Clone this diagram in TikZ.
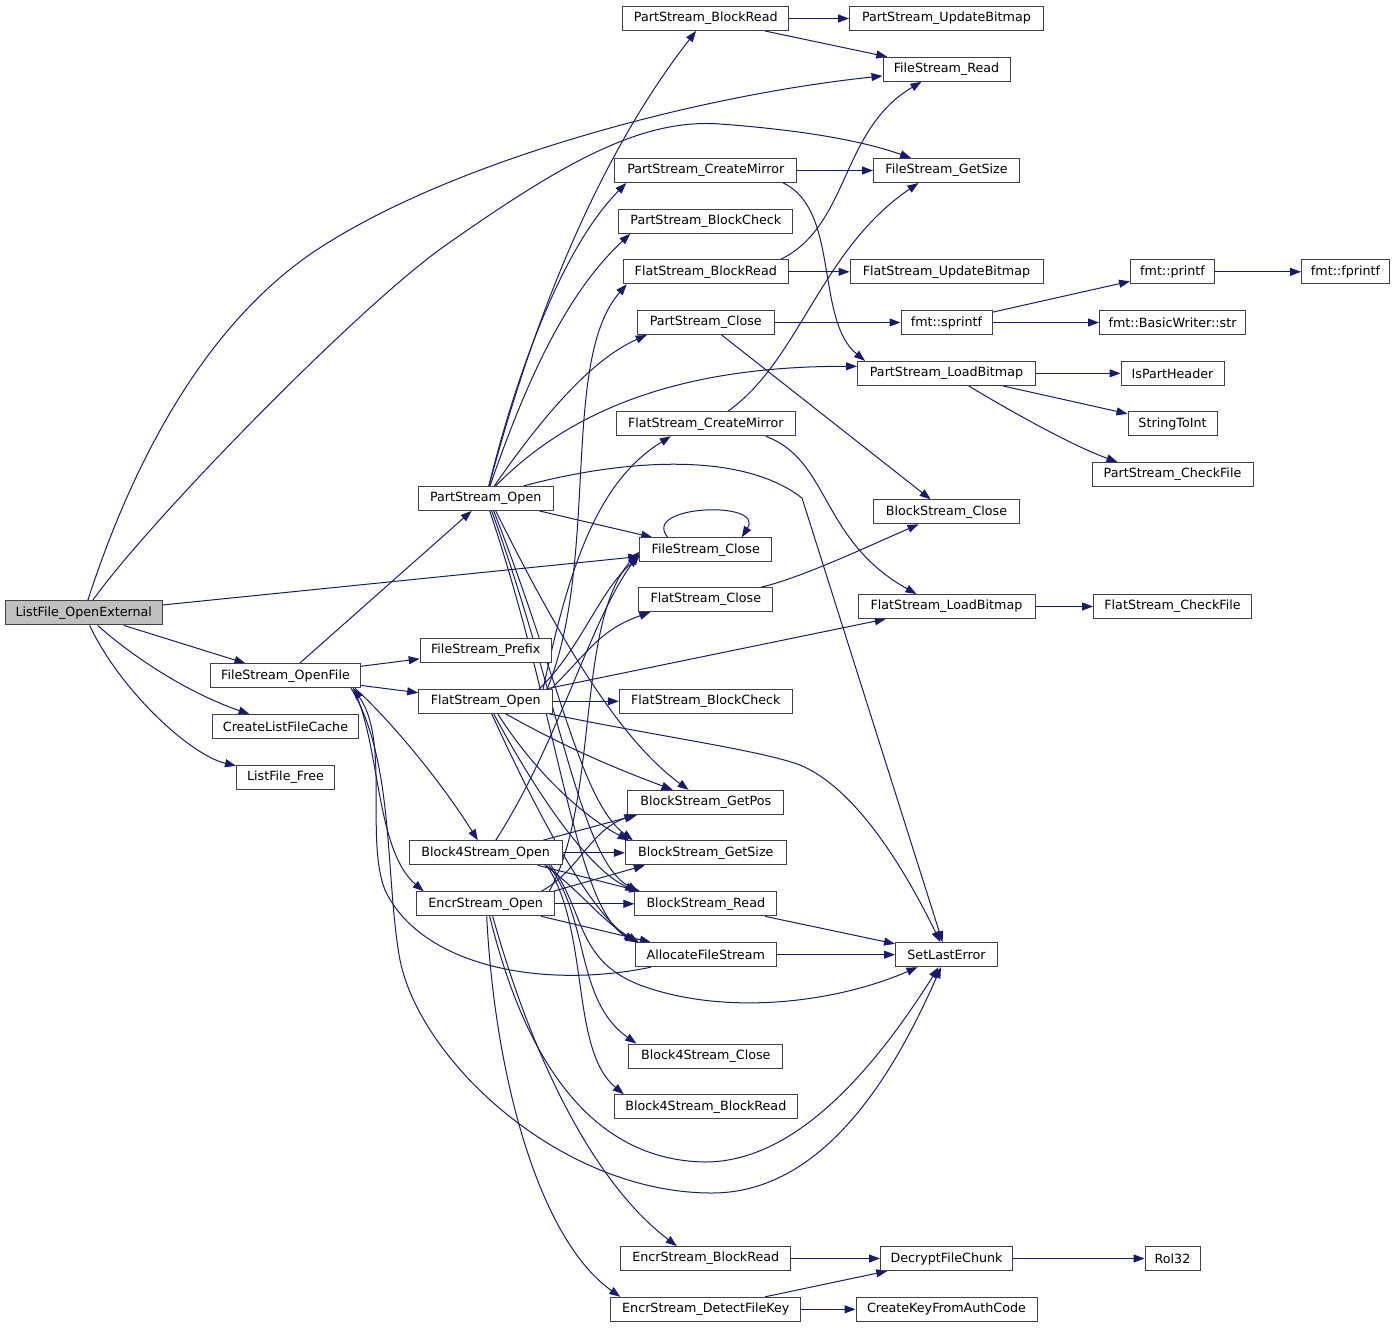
\documentclass[tikz,border=0pt]{standalone}
\usepackage{fontspec}
\setmainfont{DejaVu Sans}
\usetikzlibrary{arrows.meta,backgrounds}
\definecolor{edgeblue}{HTML}{191970}
\definecolor{boxline}{HTML}{404040}
\newcommand\mkbox[4]{\node[box,minimum width=#3pt] (#1) at (#2) {#4};}
\begin{document}
\begin{tikzpicture}[x=1pt,y=-1pt,
  box/.style={draw=boxline, line width=1pt, fill=white, minimum height=24pt, inner sep=0pt, font=\fontsize{12.7}{14}\selectfont},
  e/.style={draw=edgeblue, line width=1pt, -{Triangle[length=11pt,width=8pt]}}]
\begin{pgfonlayer}{background}
\fill[white] (0,0) rectangle (1396,1328);
\end{pgfonlayer}
\useasboundingbox (0,0) rectangle (1396,1328);
% column 0/1
\node[box,minimum width=157pt,fill=black!25] (lfoe) at (83.75,612.9) {ListFile\_OpenExternal};
\mkbox{fsopen}{285.5,675.8}{150}{FileStream\_OpenFile}
\mkbox{clfc}{285.5,726.7}{146}{CreateListFileCache}
\mkbox{lff}{285.5,777.3}{98}{ListFile\_Free}
% column 2
\mkbox{pso}{485.7,498.4}{135}{PartStream\_Open}
\mkbox{fsp}{485.7,650.5}{131}{FileStream\_Prefix}
\mkbox{flo}{485.7,701.3}{134}{FlatStream\_Open}
\mkbox{b4o}{485.7,852.8}{153}{Block4Stream\_Open}
\mkbox{eso}{485.7,903.8}{138}{EncrStream\_Open}
% column 3
\mkbox{psbr}{705.8,18.5}{166}{PartStream\_BlockRead}
\mkbox{pscm}{705.8,170.5}{182}{PartStream\_CreateMirror}
\mkbox{psbc}{705.8,221.3}{174}{PartStream\_BlockCheck}
\mkbox{flbr}{705.8,271.8}{165}{FlatStream\_BlockRead}
\mkbox{psc}{705.8,322.5}{137}{PartStream\_Close}
\mkbox{flcm}{705.8,423.8}{179}{FlatStream\_CreateMirror}
\mkbox{fsc}{705.8,549.8}{132}{FileStream\_Close}
\mkbox{flc}{705.8,599.6}{134}{FlatStream\_Close}
\mkbox{flbc}{705.8,701.3}{173}{FlatStream\_BlockCheck}
\mkbox{bsgp}{705.8,802.3}{156}{BlockStream\_GetPos}
\mkbox{bsgs}{705.8,852.8}{161}{BlockStream\_GetSize}
\mkbox{bsr}{705.8,903.8}{142}{BlockStream\_Read}
\mkbox{afs}{705.8,954.7}{141}{AllocateFileStream}
\mkbox{b4c}{705.8,1056}{154}{Block4Stream\_Close}
\mkbox{b4br}{705.8,1106.7}{183}{Block4Stream\_BlockRead}
\mkbox{esbr}{705.8,1258.5}{170}{EncrStream\_BlockRead}
\mkbox{esdk}{705.8,1309.3}{190}{EncrStream\_DetectFileKey}
% column 4
\mkbox{psub}{946.5,18.5}{194}{PartStream\_UpdateBitmap}
\mkbox{fsr}{946.5,69.3}{127}{FileStream\_Read}
\mkbox{fsgs}{946.5,170.5}{146}{FileStream\_GetSize}
\mkbox{flub}{946.5,271.8}{193}{FlatStream\_UpdateBitmap}
\mkbox{sprintf}{946.5,322.5}{91}{fmt::sprintf}
\mkbox{pslb}{946.5,373.3}{178}{PartStream\_LoadBitmap}
\mkbox{bsc}{946.5,511.8}{146}{BlockStream\_Close}
\mkbox{fllb}{946.5,606.5}{177}{FlatStream\_LoadBitmap}
\mkbox{sle}{946.5,954.7}{102}{SetLastError}
\mkbox{dfc}{946.5,1258.5}{132}{DecryptFileChunk}
\mkbox{ckac}{946.5,1309.3}{181}{CreateKeyFromAuthCode}
% column 5
\mkbox{printf}{1172.5,271.8}{84}{fmt::printf}
\mkbox{bws}{1172.5,322.5}{146}{fmt::BasicWriter::str}
\mkbox{isph}{1172.5,373.3}{103}{IsPartHeader}
\mkbox{sti}{1172.5,423.8}{89}{StringToInt}
\mkbox{pscf}{1172.5,474.5}{161}{PartStream\_CheckFile}
\mkbox{flcf}{1172.5,606.5}{158}{FlatStream\_CheckFile}
\mkbox{rol}{1172.5,1258.5}{55}{Rol32}
% column 6
\mkbox{fprintf}{1345.5,271.8}{88}{fmt::fprintf}

\begin{pgfonlayer}{background}
% ListFile_OpenExternal
\draw[e] (lfoe) .. controls (130,470) and (200,330) .. (312,253) .. controls (450,160) and (700,95) .. (fsr);
\draw[e] (lfoe) .. controls (150,520) and (360,305) .. (446,245) .. controls (560,165) and (640,118) .. (720,124) .. controls (800,130) and (860,140) .. (fsgs);
\draw[e] (lfoe) -- (fsc);
\draw[e] (lfoe) -- (fsopen);
\draw[e] (lfoe) .. controls (125,650) and (180,690) .. (clfc);
\draw[e] (lfoe) .. controls (120,690) and (190,755) .. (lff);
% FileStream_OpenFile
\draw[e] (fsopen) -- (pso);
\draw[e] (fsopen) -- (fsp);
\draw[e] (fsopen) -- (flo);
\draw[e] ([xshift=-6pt]fsopen.south east) .. controls (390,720) and (440,780) .. (b4o);
\draw[e] ([xshift=-8pt]fsopen.south east) .. controls (380,740) and (375,850) .. ([xshift=-62pt]eso.north);
\draw[e] ([xshift=-10pt]fsopen.south east) .. controls (395,760) and (385,880) .. (400,960) .. controls (420,1060) and (560,1193) .. (712,1193) .. controls (830,1193) and (900,1060) .. (sle);
\draw[e] ([xshift=16pt]afs.south west) .. controls (540,990) and (420,965) .. (385,890) .. controls (365,840) and (390,740) .. ([xshift=-8pt]fsopen.south east);
% PartStream_Open
\draw[e] (pso) .. controls (520,370) and (580,180) .. (psbr);
\draw[e] (pso) .. controls (515,380) and (560,250) .. ([xshift=12pt]pscm.south west);
\draw[e] (pso) .. controls (530,370) and (570,290) .. ([xshift=12pt]psbc.south west);
\draw[e] (pso) .. controls (540,420) and (590,360) .. ([xshift=10pt]psc.south west);
\draw[e] ([xshift=10pt]pso.north) .. controls (570,410) and (680,366) .. ([yshift=7pt]pslb.west);
\draw[e] (pso) -- (fsc);
\draw[e] ([xshift=38pt]pso.north) .. controls (620,460) and (740,450) .. (802,498) -- (sle);
\draw[e] ([xshift=10pt]pso.south) .. controls (560,640) and (620,740) .. (bsgp);
\draw[e] ([xshift=8pt]pso.south) .. controls (560,680) and (580,800) .. ([xshift=8pt]bsgs.north west);
\draw[e] ([xshift=6pt]pso.south) .. controls (560,700) and (580,860) .. ([xshift=4pt]bsr.north west);
\draw[e] ([xshift=4pt]pso.south) .. controls (560,720) and (575,910) .. ([xshift=2pt]afs.north west);
% FlatStream_Open
\draw[e] ([xshift=-6pt]flo.north east) .. controls (600,560) and (560,360) .. ([xshift=4pt]flbr.south west);
\draw[e] ([xshift=-10pt]flo.north east) .. controls (570,560) and (600,480) .. ([xshift=-35pt]flcm.south);
\draw[e] ([xshift=-14pt]flo.north east) .. controls (580,650) and (600,590) .. ([yshift=-7pt]fsc.west);
\draw[e] ([xshift=-2pt]flo.north east) .. controls (590,650) and (600,630) .. ([xshift=12pt]flc.south west);
\draw[e] (flo) -- (fllb);
\draw[e] (flo) -- (flbc);
\draw[e] ([xshift=20pt]flo.south) .. controls (570,750) and (620,770) .. (bsgp);
\draw[e] ([xshift=12pt]flo.south) .. controls (540,780) and (590,820) .. ([xshift=4pt]bsgs.north west);
\draw[e] ([xshift=8pt]flo.south) .. controls (540,800) and (590,870) .. ([xshift=2pt]bsr.north west);
\draw[e] ([xshift=6pt]flo.south) .. controls (540,820) and (590,910) .. (afs.north west);
\draw[e] ([xshift=-4pt]flo.south east) .. controls (650,735) and (760,750) .. (800,765) .. controls (860,790) and (910,880) .. (sle);
% Block4Stream_Open
\draw[e] ([xshift=10pt]b4o.north) .. controls (560,740) and (590,620) .. ([yshift=-4pt]fsc.west);
\draw[e] ([xshift=-20pt]b4o.north east) -- ([xshift=10pt]bsgp.south west);
\draw[e] (b4o) -- (bsgs);
\draw[e] ([xshift=-25pt]b4o.south east) -- ([xshift=6pt]bsr.north west);
\draw[e] ([xshift=-18pt]b4o.south east) .. controls (580,890) and (600,920) .. ([xshift=4pt]afs.north west);
\draw[e] ([xshift=-14pt]b4o.south east) .. controls (590,920) and (575,1000) .. ([xshift=8pt]b4c.north west);
\draw[e] ([xshift=-16pt]b4o.south east) .. controls (590,930) and (570,1050) .. ([xshift=10pt]b4br.north west);
\draw[e] ([xshift=-12pt]b4o.south east) .. controls (585,910) and (575,960) .. (640,985) .. controls (720,1015) and (830,1005) .. (sle);
% EncrStream_Open
\draw[e] ([xshift=-6pt]eso.north east) .. controls (600,800) and (575,620) .. ([yshift=-2pt]fsc.west);
\draw[e] ([xshift=-14pt]eso.north east) .. controls (580,870) and (590,830) .. ([xshift=8pt]bsgp.south west);
\draw[e] ([xshift=-2pt]eso.north east) -- ([xshift=20pt]bsgs.south west);
\draw[e] (eso) -- (bsr);
\draw[e] ([xshift=-14pt]eso.south east) -- ([xshift=16pt]afs.north west);
\draw[e] ([xshift=7pt]eso.south) .. controls (530,1050) and (590,1180) .. ([xshift=-29pt]esbr.north);
\draw[e] ([xshift=1pt]eso.south) .. controls (495,1080) and (540,1240) .. ([xshift=10pt]esdk.north west);
\draw[e] ([xshift=4pt]eso.south) .. controls (520,1040) and (580,1160) .. (705,1162) .. controls (800,1162) and (880,1060) .. (sle);
% right part
\draw[e] (psbr) -- (psub);
\draw[e] (psbr) -- (fsr);
\draw[e] (pscm) -- (fsgs);
\draw[e] ([xshift=-14pt]pscm.south east) .. controls (840,210) and (815,320) .. ([xshift=8pt]pslb.north west);
\draw[e] ([xshift=-8pt]flbr.north east) .. controls (850,225) and (840,130) .. ([xshift=-25pt]fsr.south);
\draw[e] (flbr) -- (flub);
\draw[e] ([xshift=22pt]flcm.north) .. controls (800,360) and (820,250) .. ([xshift=-28pt]fsgs.south);
\draw[e] ([xshift=-30pt]flcm.south east) .. controls (830,460) and (820,540) .. ([xshift=-30pt]fllb.north);
\draw[e] (psc) -- (sprintf);
\draw[e] (psc) -- (bsc);
\draw[e] ([xshift=-12pt]flc.north east) .. controls (800,578) and (860,550) .. ([xshift=-28pt]bsc.south);
\draw[e] (pslb) -- (isph);
\draw[e] (pslb) -- (sti);
\draw[e] ([xshift=22pt]pslb.south) .. controls (1000,405) and (1070,445) .. ([xshift=-55pt]pscf.north);
\draw[e] (fllb) -- (flcf);
\draw[e] (sprintf) -- (printf);
\draw[e] (sprintf) -- (bws);
\draw[e] (printf) -- (fprintf);
\draw[e] (bsr) -- (sle);
\draw[e] (afs) -- (sle);
\draw[e] (esbr) -- (dfc);
\draw[e] (esdk) -- (dfc);
\draw[e] (esdk) -- (ckac);
\draw[e] (dfc) -- (rol);
\draw[e] ([xshift=-38pt]fsc.north) .. controls (640,505) and (765,500) .. ([xshift=36pt]fsc.north);
\end{pgfonlayer}
\end{tikzpicture}
\end{document}
